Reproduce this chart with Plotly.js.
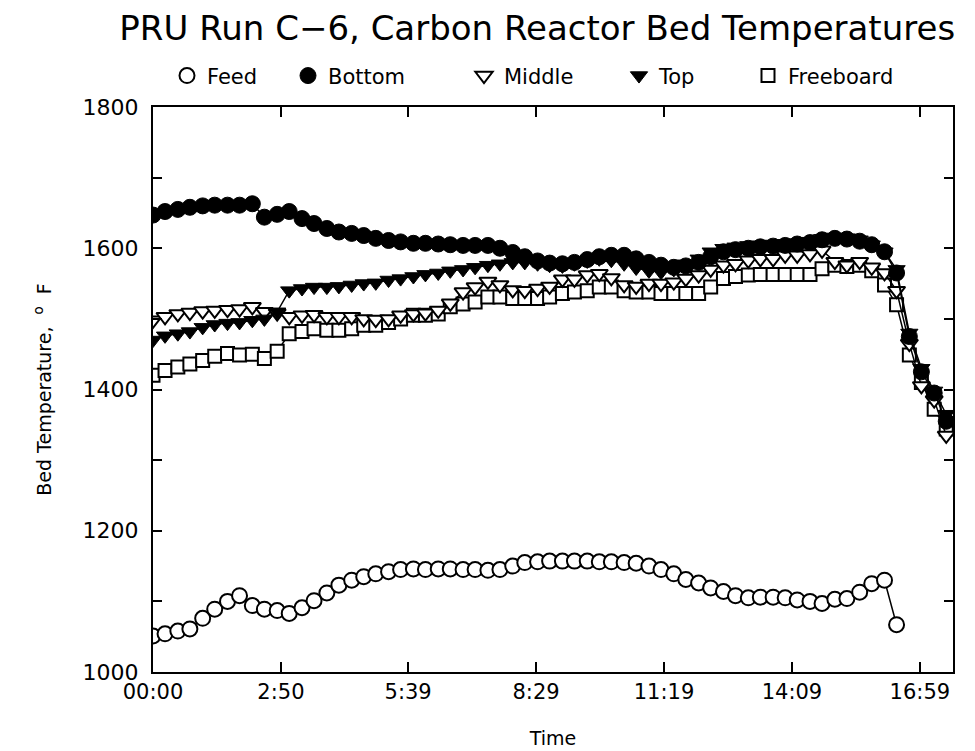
<!DOCTYPE html>
<html>
<head>
<meta charset="utf-8">
<script src="https://cdn.plot.ly/plotly-3.0.1.min.js"></script>
<style>html,body{margin:0;padding:0;background:#fff;}#chart{width:975px;height:751px;}</style>
</head>
<body>
<div id="chart"></div>
<script>
// Time of each reading, minutes from 00:00
const timeMin = [0,16,33,49,66,82,99,115,132,148,165,181,198,214,231,247,264,280,296,313,
  329,346,362,379,395,412,428,445,461,478,494,511,527,544,560,577,593,609,626,642,
  659,675,692,708,725,741,758,774,791,807,824,840,856,873,889,906,922,939,955,972,
  988,1005,1021,1038,1054];

const feedTemp = [1051,1054,1058,1061,1076,1089,1100,1108,1094,1089,
  1087,1083,1091,1101,1112,1123,1130,1135,1139,1142,
  1145,1146,1145,1146,1146,1145,1145,1144,1145,1150,
  1155,1156,1157,1157,1157,1157,1156,1156,1155,1154,
  1150,1145,1139,1131,1126,1119,1114,1108,1105,1106,
  1106,1105,1102,1100,1097,1103,1104,1113,1125,1130,
  1067];

const bottomTemp = [1647,1652,1655,1658,1660,1661,1661,1661,1663,1644,
  1648,1652,1642,1635,1628,1623,1621,1618,1614,1611,
  1609,1607,1607,1606,1605,1604,1604,1604,1600,1594,
  1588,1582,1579,1578,1580,1584,1588,1590,1590,1585,
  1580,1576,1573,1575,1580,1588,1595,1598,1600,1602,
  1603,1604,1606,1608,1612,1614,1613,1610,1605,1595,
  1565,1475,1425,1395,1355];

const middleTemp = [1498,1503,1507,1509,1511,1512,1513,1514,1517,1510,
  1508,1503,1505,1506,1503,1503,1503,1500,1499,1500,
  1505,1507,1508,1512,1522,1538,1545,1553,1548,1541,
  1540,1543,1546,1556,1556,1562,1564,1558,1548,1546,
  1550,1550,1552,1557,1562,1570,1576,1578,1583,1585,
  1585,1590,1590,1592,1597,1581,1576,1581,1573,1565,
  1540,1465,1405,1385,1335];

const topTemp = [1470,1476,1479,1482,1488,1492,1494,1495,1498,1500,
  1510,1540,1543,1545,1545,1546,1548,1550,1551,1555,
  1557,1560,1563,1565,1568,1570,1573,1576,1578,1580,
  1580,1578,1576,1575,1578,1582,1585,1583,1578,1572,
  1568,1566,1570,1578,1585,1595,1600,1602,1604,1605,
  1606,1607,1608,1610,1614,1616,1615,1612,1605,1595,
  1570,1480,1430,1398,1365];

const freeboardTemp = [1420,1427,1432,1436,1441,1447,1451,1449,1450,1444,
  1454,1479,1482,1486,1484,1484,1486,1491,1491,1495,
  1500,1505,1505,1507,1517,1521,1524,1531,1531,1529,
  1529,1529,1531,1536,1538,1540,1545,1545,1540,1538,
  1538,1536,1536,1536,1536,1545,1557,1560,1562,1563,
  1563,1563,1563,1563,1571,1576,1574,1576,1568,1548,
  1520,1449,1410,1372,1344];

const xTickVals = [0,170,339,509,679,849,1019];
const xTickText = ['00:00','2:50','5:39','8:29','11:19','14:09','16:59'];
const yTickVals = [1000,1200,1400,1600,1800];
const yTickText = ['1000','1200','1400','1600','1800'];

const seriesNames = ['Feed','Bottom','Middle','Top','Freeboard'];

const FONT = 'DejaVu Sans, Liberation Sans, sans-serif';
const black = '#000';

const markerStyles = {
  Feed:      {symbol:'circle', size:15, color:'#fff', line:{color:black, width:2}},
  Bottom:    {symbol:'circle', size:16, color:black, line:{color:black, width:1}},
  Middle:    {symbol:'triangle-down', size:15, color:'#fff', line:{color:black, width:2}},
  Top:       {symbol:'triangle-down', size:15, color:black, line:{color:black, width:1}},
  Freeboard: {symbol:'square', size:13, color:'#fff', line:{color:black, width:2}}
};

const seriesData = {Feed:feedTemp, Bottom:bottomTemp, Middle:middleTemp, Top:topTemp, Freeboard:freeboardTemp};
const drawOrder = ['Freeboard','Middle','Bottom','Top','Feed'];

const traces = [];
drawOrder.forEach(name => {
  const y = seriesData[name];
  traces.push({
    x: timeMin.slice(0, y.length), y: y, name: name,
    type:'scatter', mode:'lines+markers',
    line:{color:black, width:1.5},
    marker: markerStyles[name],
    showlegend:false, hoverinfo:'x+y+name'
  });
});

const legendIds = ['legend','legend2','legend3','legend4','legend5'];
const legendX = [0.0175, 0.16875, 0.38875, 0.5825, 0.74375];
seriesNames.forEach((name, i) => {
  traces.push({
    x:[null], y:[null], name:name, type:'scatter', mode:'markers',
    marker: markerStyles[name], showlegend:true, legend: legendIds[i]
  });
});

const layout = {
  width:975, height:751,
  margin:{l:153, r:22, t:107, b:79},
  paper_bgcolor:'#fff', plot_bgcolor:'#fff',
  font:{family:FONT, color:black},
  title:{text:'PRU Run C\u22126, Carbon Reactor Bed Temperatures',
    font:{family:FONT, size:34, color:black},
    x:0.551, xanchor:'center', y:0.962, yanchor:'middle'},
  xaxis:{
    range:[0,1063], tickmode:'array', tickvals:xTickVals, ticktext:xTickText,
    ticks:'inside', ticklen:10, tickwidth:2, tickcolor:black,
    showline:true, linecolor:black, linewidth:2, mirror:'allticks',
    showgrid:false, zeroline:false,
    tickfont:{family:FONT, size:21, color:black},
    title:{text:'Time', font:{family:FONT, size:19, color:black}, standoff:28}
  },
  yaxis:{
    range:[1000,1800], tickmode:'array', tickvals:yTickVals, ticktext:yTickText,
    ticks:'inside', ticklen:9, tickwidth:2, tickcolor:black,
    minor:{dtick:100, tick0:1000, ticks:'inside', ticklen:9, tickwidth:2, tickcolor:black, showgrid:false},
    showline:true, linecolor:black, linewidth:2, mirror:'allticks',
    showgrid:false, zeroline:false,
    tickfont:{family:FONT, size:22, color:black},
    ticklabelstandoff:8,
    title:{text:'Bed Temperature,  <sup>o</sup>  F', font:{family:FONT, size:19, color:black}, standoff:26}
  }
};
legendIds.forEach((id, i) => {
  layout[id] = {
    x:legendX[i], y:1.055, xanchor:'left', yanchor:'middle',
    orientation:'h', bgcolor:'rgba(0,0,0,0)', borderwidth:0,
    font:{family:FONT, size:21, color:black}
  };
});

Plotly.newPlot('chart', traces, layout, {displayModeBar:false, staticPlot:true});
</script>
</body>
</html>
